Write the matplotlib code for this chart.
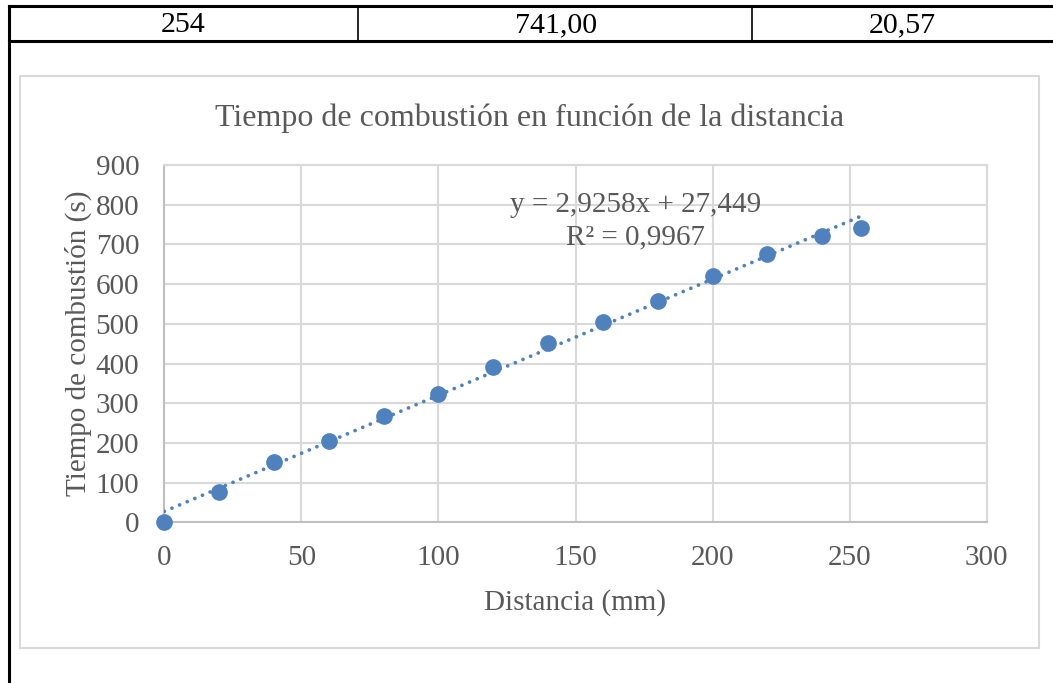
import numpy as np
import matplotlib
matplotlib.use("Agg")
from matplotlib import pyplot as plt
from matplotlib.lines import Line2D
from matplotlib.patches import Rectangle

# row of the table above the chart
table_row = ["254", "741,00", "20,57"]

# measured points
distancia = [0, 20, 40, 60, 80, 100, 120, 140, 160, 180, 200, 220, 240, 254]
tiempo = [0, 76, 151, 206, 269, 324, 391, 451, 504, 557, 621, 676, 720, 741]

# linear trend as printed in the chart
pendiente = 2.9258
ordenada = 27.449
r2 = 0.9967

azul = "#4F81BD"
gris_txt = "#595959"
gris_rejilla = "#D9D9D9"

plt.rcParams['font.family'] = ['Liberation Serif', 'DejaVu Serif']

fig = plt.figure(figsize=(10.53, 6.83), dpi=100)
W, H = 1053.0, 683.0

def fx(px):
    return px / W

def fy(py):
    return 1 - py / H

# table borders
for y in (5.5, 40.5):
    fig.add_artist(Line2D([fx(9), 1], [fy(y), fy(y)], color="black", lw=2.2))
fig.add_artist(Line2D([fx(9), fx(9)], [0, fy(5.5)], color="black", lw=2.2))
for x in (358, 752):
    fig.add_artist(Line2D([fx(x), fx(x)], [fy(5.5), fy(40.5)], color="black", lw=1.2))
for txt, cx in zip(table_row, (183, 556, 902)):
    fig.text(fx(cx), fy(32), txt, ha="center", va="baseline", fontsize=21.5, color="black")

# chart area frame
fig.add_artist(Rectangle((fx(20), fy(648)), fx(1039 - 20), (648 - 76) / H,
                         fill=False, edgecolor=gris_rejilla, lw=1.5))

ax = fig.add_axes([164.3 / W, 1 - 522.3 / H, (986.7 - 164.3) / W, (522.3 - 165) / H])

xs = np.array([0, max(distancia)])
ax.plot(xs, pendiente * xs + ordenada, linestyle=(0, (0.01, 2.2)), color=azul,
        lw=2.7, dash_capstyle="round", zorder=3)
ax.plot(distancia, tiempo, "o", color=azul, markersize=11, zorder=4, clip_on=False)

ax.set_xlim(0, 300)
ax.set_ylim(0, 900)
ax.set_xticks(np.arange(0, 301, 50))
ax.set_yticks(np.arange(0, 901, 100))
ax.grid(True, color=gris_rejilla, lw=1.5)
ax.set_axisbelow(True)
for side in ("top", "right"):
    ax.spines[side].set_color(gris_rejilla)
    ax.spines[side].set_linewidth(1.5)
for side in ("left", "bottom"):
    ax.spines[side].set_color("#BFBFBF")
    ax.spines[side].set_linewidth(1.5)
ax.tick_params(length=0, labelsize=21, colors=gris_txt)
ax.tick_params(axis="x", pad=16)
ax.tick_params(axis="y", pad=18)

ax.set_xlabel("Distancia (mm)", fontsize=21, color=gris_txt, labelpad=13)
ax.set_ylabel("Tiempo de combustión (s)", fontsize=21, color=gris_txt, labelpad=3)

fig.text(fx(530), fy(118), "Tiempo de combustión en función de la distancia",
         ha="center", va="center", fontsize=23, color=gris_txt)

ax.text(0.573, 0.842,
        "y = {}x + {}\nR² = {}".format(str(pendiente).replace(".", ","),
                                        str(ordenada).replace(".", ","),
                                        str(r2).replace(".", ",")),
        transform=ax.transAxes, ha="center", va="center", fontsize=21,
        color=gris_txt, linespacing=1.34, multialignment="center")

fig.savefig("out.png", dpi=100)
